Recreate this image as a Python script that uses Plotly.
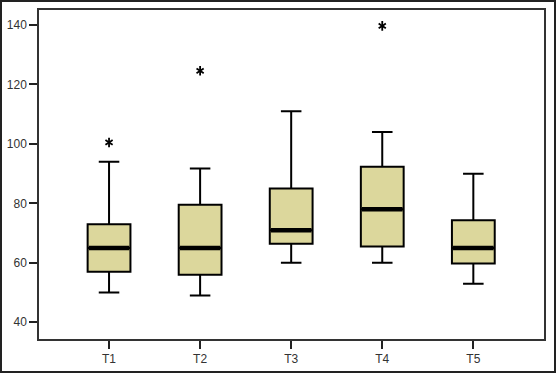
import plotly.graph_objects as go

categories = ["T1", "T2", "T3", "T4", "T5"]
lower_whisker = [50, 49, 60, 60, 53]
q1_vals = [57, 56, 66.4, 65.5, 59.8]
medians = [65, 65, 71, 78, 65]
q3_vals = [73, 79.5, 85, 92.3, 74.3]
upper_whisker = [94, 91.7, 111, 104, 90]
outlier_cat = [0, 1, 3]
outlier_vals = [100.5, 124.6, 139.7]
y_ticks = [40, 60, 80, 100, 120, 140]

BOX_W = 0.47
FILL = "#dcd79c"

fig = go.Figure()
xs = list(range(len(categories)))
fig.add_trace(go.Box(
    x=xs, q1=q1_vals, median=medians, q3=q3_vals,
    lowerfence=lower_whisker, upperfence=upper_whisker,
    width=BOX_W, whiskerwidth=0.48, fillcolor=FILL,
    line=dict(color="black", width=2), boxpoints=False,
    hoverinfo="skip", showlegend=False,
))

# thick median bars
mx, my = [], []
for i, m in zip(xs, medians):
    mx += [i - BOX_W / 2 + 0.012, i + BOX_W / 2 - 0.012, None]
    my += [m, m, None]
fig.add_trace(go.Scatter(x=mx, y=my, mode="lines",
                         line=dict(color="black", width=4.5),
                         showlegend=False, hoverinfo="skip"))

# outliers as asterisks
for sym in ["y-up-open", "y-down-open"]:
    fig.add_trace(go.Scatter(
        x=outlier_cat, y=outlier_vals, mode="markers",
        marker=dict(symbol=sym, size=6, color="black",
                    line=dict(color="black", width=1.8)),
        showlegend=False, hoverinfo="skip"))

L, R, T, B = 39, 12, 10, 34
W, H = 556, 373
pw, ph = W - L - R, H - T - B

fig.update_layout(
    width=W, height=H,
    margin=dict(l=L, r=R, t=T, b=B, pad=0, autoexpand=False),
    paper_bgcolor="white", plot_bgcolor="white",
    font=dict(family="Liberation Sans, Arial, sans-serif", size=12, color="#333333"),
    xaxis=dict(range=[-0.769, 4.776], tickvals=xs, ticktext=categories,
               showgrid=False, zeroline=False, showline=True, linecolor="#333333",
               linewidth=1.5, mirror=True, ticks="outside", ticklen=8, tickwidth=2,
               tickcolor="#222222", automargin=False),
    yaxis=dict(range=[34.38, 145.05], tickvals=y_ticks,
               showgrid=False, zeroline=False, showline=True, linecolor="#333333",
               linewidth=1.5, mirror=True, ticks="outside", ticklen=8, tickwidth=2,
               tickcolor="#222222", automargin=False),
    shapes=[dict(type="rect", xref="paper", yref="paper",
                 x0=(1 - L) / pw, x1=(W - 1 - L) / pw,
                 y0=-(B - 1) / ph, y1=(ph + T - 1) / ph,
                 line=dict(color="#222222", width=2), layer="above")],
)

fig.write_html("out.html", config={"displayModeBar": False},
               post_script="document.body.style.margin='0';")
